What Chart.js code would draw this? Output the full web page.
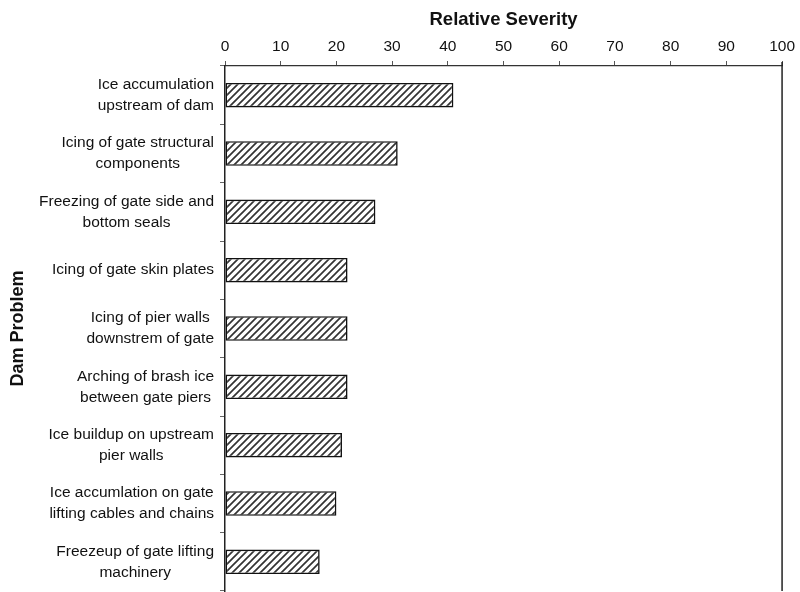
<!DOCTYPE html>
<html>
<head>
<meta charset="utf-8">
<script src="https://cdn.jsdelivr.net/npm/chart.js@4/dist/chart.umd.min.js"></script>
<style>
  html, body { margin: 0; padding: 0; background: #fff; overflow: hidden; }
  #wrap { width: 800px; height: 600px; }
</style>
</head>
<body>
<div id="wrap"><canvas id="chartCanvas"></canvas></div>
<script>
// -------- DATA --------
const problems = [
    ["Ice accumulation", "upstream of dam"],
    ["Icing of gate structural", "components"],
    ["Freezing of gate side and", "bottom seals"],
    ["Icing of gate skin plates"],
    ["Icing of pier walls", "downstrem of gate"],
    ["Arching of brash ice", "between gate piers"],
    ["Ice buildup on upstream", "pier walls"],
    ["Ice accumlation on gate", "lifting cables and chains"],
    ["Freezeup of gate lifting", "machinery"]
];
const severity = [41, 31, 27, 22, 22, 22, 21, 20, 17];
const severityTicks = [0, 10, 20, 30, 40, 50, 60, 70, 80, 90, 100];

const FONT = "'Liberation Sans', Arial, sans-serif";

// -------- HATCH PATTERN --------
function makeHatch() {
    const size = 7;
    const c = document.createElement('canvas');
    c.width = size; c.height = size;
    const g = c.getContext('2d');
    g.fillStyle = '#fff';
    g.fillRect(0, 0, size, size);
    g.strokeStyle = '#333';
    g.lineWidth = 1.7;
    g.beginPath();
    g.moveTo(-1, size + 1); g.lineTo(size + 1, -1);
    g.moveTo(-1, 1); g.lineTo(1, -1);
    g.moveTo(size - 1, size + 1); g.lineTo(size + 1, size - 1);
    g.stroke();
    return g.createPattern(c, 'repeat');
}

// draws the category labels: block right-aligned, lines centred inside the block
const labelPlugin = {
    id: 'problemLabels',
    afterDraw(chart) {
        const ctx = chart.ctx;
        const yScale = chart.scales.y;
        const right = chart.chartArea.left - 11;
        const lh = 21;
        ctx.save();
        ctx.font = '15.5px ' + FONT;
        ctx.fillStyle = '#111';
        ctx.textAlign = 'center';
        ctx.textBaseline = 'middle';
        chart.data.labels.forEach((lines, i) => {
            const y = yScale.getPixelForTick(i);
            const w = Math.max(...lines.map(l => ctx.measureText(l).width));
            const cx = right - w / 2;
            const y0 = y - (lines.length - 1) * lh / 2;
            lines.forEach((l, j) => ctx.fillText(l, cx, y0 + j * lh));
        });
        ctx.restore();
    }
};

// right-hand frame line of the plot
const framePlugin = {
    id: 'frame',
    afterDraw(chart) {
        const a = chart.chartArea;
        const ctx = chart.ctx;
        ctx.save();
        ctx.strokeStyle = '#222';
        ctx.lineWidth = 1.5;
        ctx.beginPath();
        ctx.moveTo(a.right, a.top - 4);
        ctx.lineTo(a.right, a.bottom);
        ctx.stroke();
        ctx.restore();
    }
};

const ctx = document.getElementById('chartCanvas').getContext('2d');
window.severityChart = new Chart(ctx, {
    type: 'bar',
    data: {
        labels: problems,
        datasets: [{
            label: 'Relative Severity',
            data: severity,
            backgroundColor: makeHatch(),
            borderColor: '#111',
            borderWidth: 1.6,
            borderSkipped: false,
            barPercentage: 0.42,
            categoryPercentage: 1
        }]
    },
    options: {
        indexAxis: 'y',
        responsive: true,
        maintainAspectRatio: false,
        animation: false,
        layout: { padding: { left: 0, right: 16, top: 0, bottom: 9 } },
        plugins: {
            legend: { display: false },
            tooltip: { enabled: false }
        },
        scales: {
            x: {
                position: 'top',
                min: 0,
                max: 100,
                afterBuildTicks: scale => { scale.ticks = severityTicks.map(v => ({ value: v })); },
                afterFit: scale => { scale.height = 66; },
                ticks: {
                    font: { family: FONT, size: 15.5 },
                    color: '#111',
                    padding: 5,
                    maxRotation: 0
                },
                grid: {
                    drawOnChartArea: false,
                    tickLength: 5,
                    color: '#555'
                },
                border: { display: true, color: '#333', width: 1.3 },
                title: {
                    display: true,
                    text: 'Relative Severity',
                    font: { family: FONT, size: 18.5, weight: 'bold' },
                    color: '#111',
                    padding: { top: 9, bottom: 0 }
                }
            },
            y: {
                afterFit: scale => { scale.width = 225; },
                ticks: { display: false },
                grid: {
                    drawOnChartArea: false,
                    tickLength: 5,
                    color: '#666',
                    offset: true
                },
                border: { display: true, color: '#222', width: 1.5 },
                title: {
                    display: true,
                    text: 'Dam Problem',
                    font: { family: FONT, size: 18, weight: 'bold' },
                    color: '#111',
                    padding: { top: 7, bottom: 0 }
                }
            }
        }
    },
    plugins: [labelPlugin, framePlugin]
});
</script>
</body>
</html>
